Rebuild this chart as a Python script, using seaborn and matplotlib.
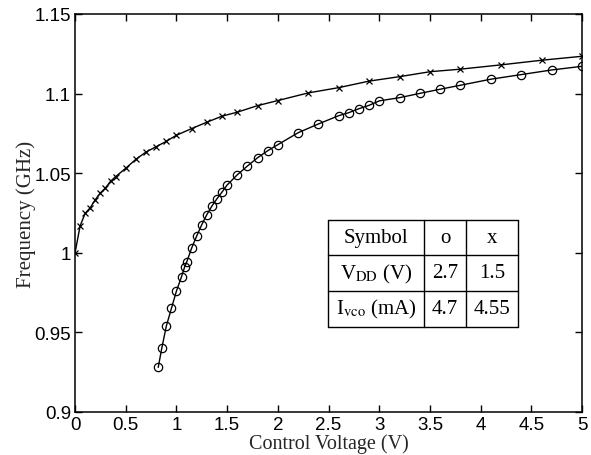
import numpy as np
import pandas as pd
import matplotlib
matplotlib.use("Agg")
import matplotlib.pyplot as plt
import seaborn as sns

# ---- data ----
vc_o = [0.82, 0.855, 0.9, 0.95, 1.0, 1.05, 1.08, 1.1, 1.15, 1.2, 1.25, 1.3, 1.35, 1.4,
        1.45, 1.5, 1.6, 1.7, 1.8, 1.9, 2.0, 2.2, 2.4, 2.6, 2.7, 2.8, 2.9, 3.0, 3.2,
        3.4, 3.6, 3.8, 4.1, 4.4, 4.7, 5.0]
f_o = [0.928, 0.940, 0.954, 0.965, 0.976, 0.985, 0.991, 0.994, 1.003, 1.0106, 1.0177,
       1.024, 1.0294, 1.034, 1.0382, 1.0426, 1.049, 1.0545, 1.0597, 1.0641, 1.0679,
       1.0754, 1.0809, 1.0861, 1.088, 1.0905, 1.0926, 1.0954, 1.0974, 1.1001, 1.1027,
       1.1052, 1.109, 1.1119, 1.1148, 1.1171]

vc_x = [0.0, 0.05, 0.1, 0.15, 0.2, 0.25, 0.3, 0.35, 0.4, 0.5, 0.6, 0.7, 0.8, 0.9, 1.0,
        1.15, 1.3, 1.45, 1.6, 1.8, 2.0, 2.3, 2.6, 2.9, 3.2, 3.5, 3.8, 4.2, 4.6, 5.0]
f_x = [1.0, 1.0169, 1.0248, 1.0283, 1.0334, 1.0376, 1.0407, 1.0449, 1.0478, 1.0531,
       1.0587, 1.0633, 1.0666, 1.070, 1.0738, 1.078, 1.082, 1.0858, 1.0883, 1.0924,
       1.0956, 1.1004, 1.1037, 1.1078, 1.1106, 1.1137, 1.1153, 1.118, 1.1209, 1.1234]

xticks = [0, 0.5, 1, 1.5, 2, 2.5, 3, 3.5, 4, 4.5, 5]
xticklabels = ["0", "0.5", "1", "1.5", "2", "2.5", "3", "3.5", "4", "4.5", "5"]
yticks = [0.9, 0.95, 1.0, 1.05, 1.1, 1.15]
yticklabels = ["0.9", "0.95", "1", "1.05", "1.1", "1.15"]

table_rows = [["Symbol", "o", "x"],
              [r"V$_{\mathrm{DD}}$ (V)", "2.7", "1.5"],
              [r"I$_{\mathrm{vco}}$ (mA)", "4.7", "4.55"]]
# table grid in data coordinates
table_cols_x = [2.495, 3.442, 3.856, 4.369]
table_rows_y = [1.0208, 0.9986, 0.976, 0.9534]

sns.set_theme(style="white")
plt.rcParams["font.family"] = ["Liberation Sans", "DejaVu Sans"]
plt.rcParams["mathtext.fontset"] = "stix"

fig = plt.figure(figsize=(5.91, 4.56), dpi=100)
ax = fig.add_axes([0.127, 0.0943, 0.858, 0.873])

df_o = pd.DataFrame({"v": vc_o, "f": f_o})
df_x = pd.DataFrame({"v": vc_x, "f": f_x})
sns.lineplot(data=df_o, x="v", y="f", ax=ax, sort=False, color="black", lw=1.0,
             marker="o", markersize=6, markerfacecolor="none",
             markeredgecolor="black", markeredgewidth=0.9)
sns.lineplot(data=df_x, x="v", y="f", ax=ax, sort=False, color="black", lw=1.0,
             marker="x", markersize=5, markeredgecolor="black", markeredgewidth=0.9)

ax.set_xlim(0, 5)
ax.set_ylim(0.9, 1.15)
ax.set_xticks(xticks)
ax.set_xticklabels(xticklabels)
ax.set_yticks(yticks)
ax.set_yticklabels(yticklabels)
ax.tick_params(direction="in", length=5, width=1, top=True, right=True,
               bottom=True, left=True, labelsize=13.5, colors="black")
ax.tick_params(axis="x", pad=3)
ax.tick_params(axis="y", pad=3)
for s in ax.spines.values():
    s.set_color("black")
    s.set_linewidth(1.1)

ax.set_xlabel("Control Voltage (V)", family=["Liberation Serif"], fontsize=14.5, labelpad=0)
ax.set_ylabel("Frequency (GHz)", family=["Liberation Serif"], fontsize=15, labelpad=-1)

# table
x0, x3 = table_cols_x[0], table_cols_x[-1]
y0, y3 = table_rows_y[0], table_rows_y[-1]
for yy in table_rows_y:
    ax.plot([x0, x3], [yy, yy], color="black", lw=1.0)
for xx in table_cols_x:
    ax.plot([xx, xx], [y0, y3], color="black", lw=1.0)
for i, row in enumerate(table_rows):
    yc = (table_rows_y[i] + table_rows_y[i + 1]) / 2
    for j, txt in enumerate(row):
        xc = (table_cols_x[j] + table_cols_x[j + 1]) / 2
        ax.text(xc, yc, txt, ha="center", va="center", fontsize=15,
                family=["Liberation Serif"], color="black")

fig.savefig("out.png", dpi=100)
